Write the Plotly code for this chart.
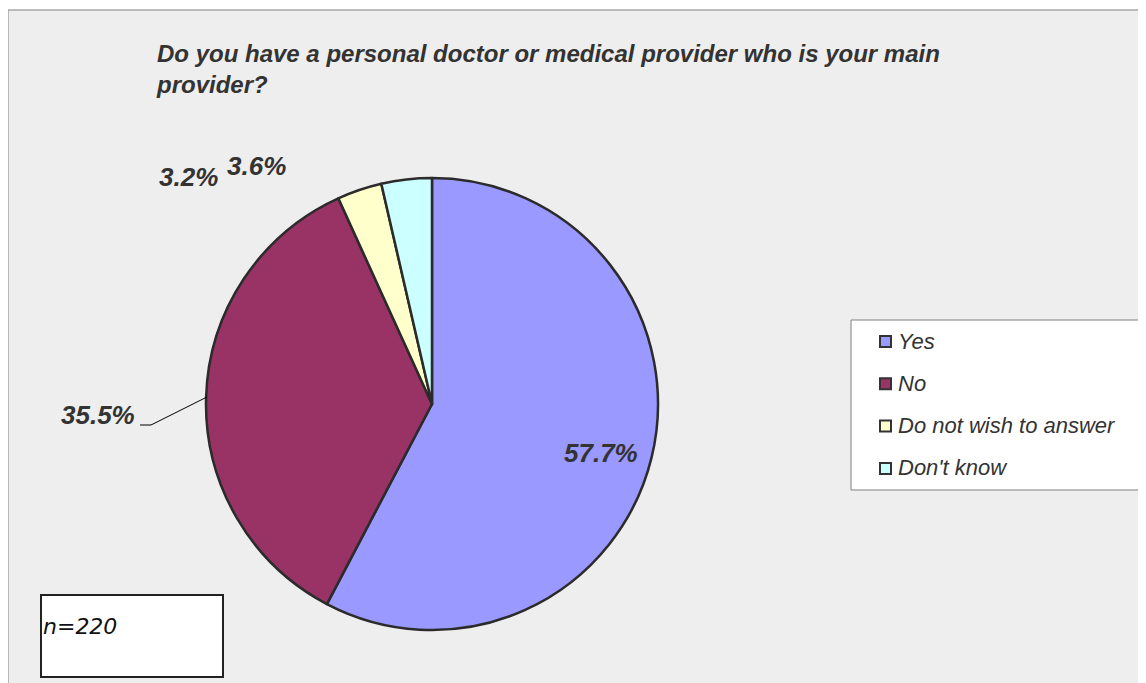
import plotly.graph_objects as go

W, H = 1146, 683
OFF = 8  # the page body has an 8px margin, so pull everything back by that much

# data
labels = ["Yes", "No", "Do not wish to answer", "Don't know"]
values = [57.7, 35.5, 3.2, 3.6]
colors = ["#9999FF", "#993366", "#FFFFCC", "#CCFFFF"]
title_text = "Do you have a personal doctor or medical provider who is your main<br>provider?"
n_text = "n=220"


def px(x):
    return (x - OFF) / W


def py(y):
    return 1 - (y - OFF) / H


fig = go.Figure()

# pie centred at (432, 404), radius 226
fig.add_trace(go.Pie(
    labels=labels,
    values=values,
    marker=dict(colors=colors, line=dict(color="#2b2b2b", width=2.5)),
    sort=False,
    direction="clockwise",
    rotation=0,
    textinfo="none",
    hoverinfo="label+percent",
    showlegend=False,
    domain=dict(x=[px(206), px(658)], y=[py(630), py(178)]),
))

shapes = []
annotations = []

# chart area background + frame
shapes.append(dict(type="rect", xref="paper", yref="paper",
                   x0=px(8), x1=px(1170), y0=py(720), y1=py(10),
                   fillcolor="#EEEEEE", line=dict(color="#808080", width=1), layer="below"))

# title
annotations.append(dict(text="<b><i>" + title_text + "</i></b>", xref="paper", yref="paper",
                        x=px(154), y=py(38), xanchor="left", yanchor="top", align="left",
                        showarrow=False,
                        font=dict(family="Liberation Sans, Arial", size=24, color="#333333")))

# data labels
label_font = dict(family="Liberation Sans, Arial", size=26, color="#333333")
label_pos = [(601, 453), (98, 415), (188, 177), (256, 166)]
for v, (lx, ly) in zip(values, label_pos):
    annotations.append(dict(text="<b><i>%.1f%%</i></b>" % v, xref="paper", yref="paper",
                            x=px(lx), y=py(ly), xanchor="center", yanchor="middle",
                            showarrow=False, font=label_font))

# leader line for the 35.5% label
shapes.append(dict(type="path", xref="paper", yref="paper",
                   path="M %f,%f L %f,%f L %f,%f" % (px(140), py(425), px(151), py(425),
                                                      px(207), py(397)),
                   line=dict(color="#000000", width=1)))

# legend box (runs off the right edge)
shapes.append(dict(type="rect", xref="paper", yref="paper",
                   x0=px(851), x1=px(1170), y0=py(490), y1=py(320),
                   fillcolor="#FFFFFF", line=dict(color="#808080", width=1)))
for i, (lab, col) in enumerate(zip(labels, colors)):
    yc = 341 + i * 42.3
    shapes.append(dict(type="rect", xref="paper", yref="paper",
                       x0=px(880), x1=px(891), y0=py(yc + 6), y1=py(yc - 5),
                       fillcolor=col, line=dict(color="#333333", width=2)))
    annotations.append(dict(text="<i>" + lab + "</i>", xref="paper", yref="paper",
                            x=px(896), y=py(yc), xanchor="left", yanchor="middle",
                            showarrow=False,
                            font=dict(family="Liberation Sans, Arial", size=22, color="#333333")))

# n box
shapes.append(dict(type="rect", xref="paper", yref="paper",
                   x0=px(41), x1=px(223), y0=py(677), y1=py(595),
                   fillcolor="#FFFFFF", line=dict(color="#222222", width=2)))
annotations.append(dict(text="<i>" + n_text + "</i>", xref="paper", yref="paper",
                        x=px(41), y=py(626), xanchor="left", yanchor="middle",
                        showarrow=False,
                        font=dict(family="DejaVu Sans, Verdana", size=22, color="#111111")))

fig.update_layout(
    width=W, height=H,
    margin=dict(l=0, r=0, t=0, b=0),
    paper_bgcolor="#FFFFFF",
    plot_bgcolor="#FFFFFF",
    shapes=shapes,
    annotations=annotations,
)

fig.write_html("out.html")
